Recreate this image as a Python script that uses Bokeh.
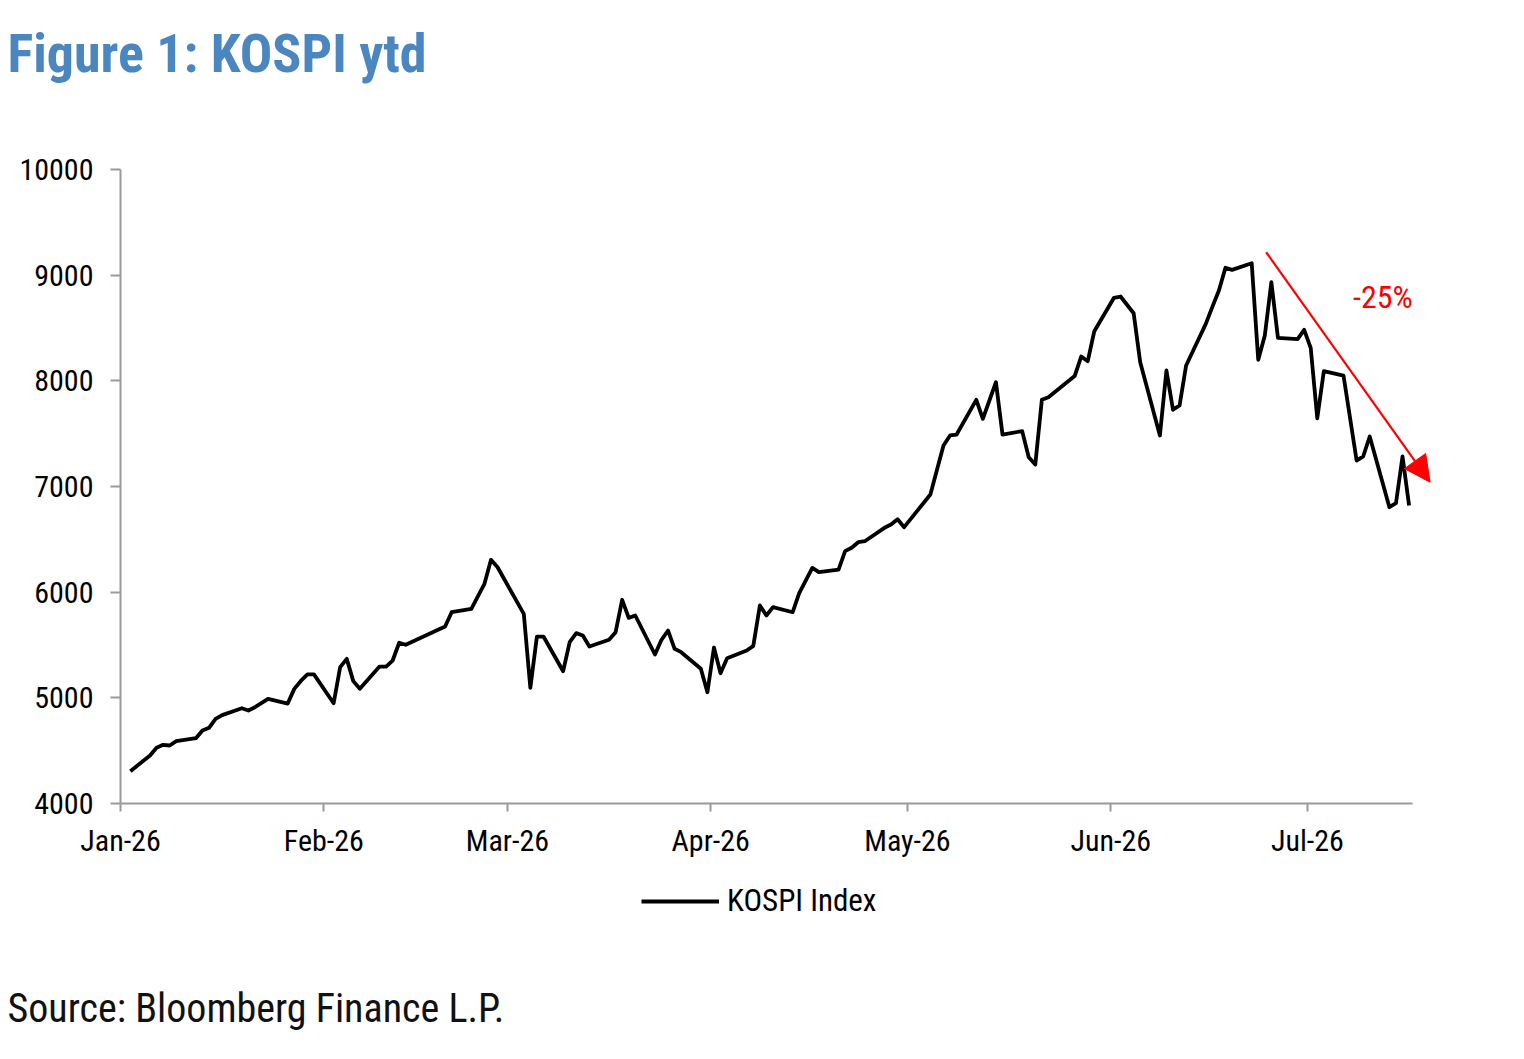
import pandas as pd
from datetime import datetime
from bokeh.plotting import figure
from bokeh.layouts import column
from bokeh.models import (ColumnDataSource, Range1d, FixedTicker, DatetimeTickFormatter,
                          Label, Arrow, NormalHead, Legend, LegendItem)
from bokeh.embed import file_html
from bokeh.resources import INLINE

# ---------------- data ----------------
dates = [
    "2026-01-02", "2026-01-05", "2026-01-06", "2026-01-07", "2026-01-08", "2026-01-09",
    "2026-01-12", "2026-01-13", "2026-01-14", "2026-01-15", "2026-01-16",
    "2026-01-19", "2026-01-20", "2026-01-21", "2026-01-23",
    "2026-01-26", "2026-01-27", "2026-01-28", "2026-01-29", "2026-01-30",
    "2026-02-02", "2026-02-03", "2026-02-04", "2026-02-05", "2026-02-06",
    "2026-02-09", "2026-02-10", "2026-02-11", "2026-02-12", "2026-02-13",
    "2026-02-19", "2026-02-20", "2026-02-23", "2026-02-25", "2026-02-26", "2026-02-27",
    "2026-03-03", "2026-03-04", "2026-03-05", "2026-03-06",
    "2026-03-09", "2026-03-10", "2026-03-11", "2026-03-12", "2026-03-13",
    "2026-03-16", "2026-03-17", "2026-03-18", "2026-03-19", "2026-03-20",
    "2026-03-23", "2026-03-24", "2026-03-25", "2026-03-26", "2026-03-27",
    "2026-03-30", "2026-03-31", "2026-04-01", "2026-04-02", "2026-04-03",
    "2026-04-06", "2026-04-07", "2026-04-08", "2026-04-09", "2026-04-10",
    "2026-04-13", "2026-04-14", "2026-04-16", "2026-04-17",
    "2026-04-20", "2026-04-21", "2026-04-22", "2026-04-23", "2026-04-24",
    "2026-04-27", "2026-04-28", "2026-04-29", "2026-04-30",
    "2026-05-04", "2026-05-06", "2026-05-07", "2026-05-08",
    "2026-05-11", "2026-05-12", "2026-05-13", "2026-05-14", "2026-05-15",
    "2026-05-18", "2026-05-19", "2026-05-20", "2026-05-21", "2026-05-22",
    "2026-05-26", "2026-05-27", "2026-05-28", "2026-05-29",
    "2026-06-01", "2026-06-02", "2026-06-04", "2026-06-05",
    "2026-06-08", "2026-06-09", "2026-06-10", "2026-06-11", "2026-06-12",
    "2026-06-15", "2026-06-16", "2026-06-17", "2026-06-18", "2026-06-19",
    "2026-06-22", "2026-06-23", "2026-06-24", "2026-06-25", "2026-06-26",
    "2026-06-29", "2026-06-30", "2026-07-01", "2026-07-02", "2026-07-03",
    "2026-07-06", "2026-07-08", "2026-07-09", "2026-07-10",
    "2026-07-13", "2026-07-14", "2026-07-15", "2026-07-16",
]
kospi = [
    4306, 4454, 4527, 4555, 4549, 4590,
    4618, 4691, 4716, 4801, 4836,
    4902, 4880, 4911, 4991,
    4946, 5085, 5160, 5222, 5222,
    4949, 5290, 5369, 5158, 5085,
    5296, 5296, 5353, 5521, 5502,
    5675, 5810, 5842, 6079, 6306, 6236,
    5795, 5095, 5580, 5580,
    5252, 5527, 5612, 5590, 5486,
    5549, 5621, 5928, 5757, 5779,
    5410, 5549, 5637, 5464, 5432,
    5275, 5053, 5476, 5233, 5374,
    5448, 5492, 5874, 5779, 5858,
    5810, 5990, 6230, 6189,
    6214, 6388, 6420, 6473, 6482,
    6609, 6640, 6690, 6615,
    6924, 7388, 7483, 7492,
    7820, 7640, 7814, 7987, 7492,
    7524, 7277, 7208, 7820, 7845,
    8045, 8230, 8186, 8470,
    8786, 8798, 8640, 8176,
    7483, 8098, 7726, 7767, 8145,
    8539, 8700, 8855, 9070, 9050,
    9113, 8199, 8430, 8934, 8407,
    8394, 8483, 8312, 7646, 8091,
    8050, 7246, 7284, 7473,
    6804, 6842, 7284, 6820,
]
month_ticks = ["2026-01-01", "2026-02-01", "2026-03-01", "2026-04-01",
               "2026-05-01", "2026-06-01", "2026-07-01"]
y_ticks = [4000, 5000, 6000, 7000, 8000, 9000, 10000]
series_name = "KOSPI Index"
title_text = "Figure 1: KOSPI ytd"
source_text = "Source: Bloomberg Finance L.P."
change_text = "-25%"

# ---------------- styling ----------------
NARROW = "'Liberation Sans Narrow', 'Arial Narrow', 'Roboto Condensed', 'Liberation Sans'"
AXIS_GREY = "#9a9a9a"
W = 1524


def blank_fig(height):
    f = figure(width=W, height=height, output_backend="svg", toolbar_location=None,
               x_range=Range1d(0, W), y_range=Range1d(0, height),
               x_axis_location=None, y_axis_location=None, frame_align=False,
               min_border_left=0, min_border_right=0, min_border_top=0, min_border_bottom=0)
    f.outline_line_color = None
    f.xgrid.visible = False
    f.ygrid.visible = False
    return f


# points sit in the middle of each day (Excel date-axis convention)
x = pd.to_datetime(dates) + pd.Timedelta(hours=12)
src = ColumnDataSource(dict(x=x, y=kospi))

# ---------------- title strip ----------------
top = blank_fig(130)
top.add_layout(Label(x=7, y=77, text=title_text, text_color="#4A86C0", text_font=NARROW,
                     text_font_style="bold", text_font_size="54px",
                     text_baseline="alphabetic"))

# ---------------- main chart ----------------
p = figure(width=W, height=750, output_backend="svg", toolbar_location=None,
           x_axis_type="datetime", frame_align=False,
           x_range=Range1d(datetime(2026, 1, 1), datetime(2026, 7, 21, 7)),
           y_range=Range1d(4000, 10000),
           min_border_left=120, min_border_right=84,
           min_border_top=39, min_border_bottom=77)
p.outline_line_color = None
p.xgrid.visible = False
p.ygrid.visible = False

r = p.line("x", "y", source=src, line_color="black", line_width=3.8, line_join="round")

tick_ms = [pd.Timestamp(t).value // 10**6 for t in month_ticks]
p.xaxis.ticker = FixedTicker(ticks=tick_ms)
p.xaxis.formatter = DatetimeTickFormatter(days="%b-%y", months="%b-%y", years="%b-%y",
                                          hours="%b-%y", minutes="%b-%y")
p.xaxis.bounds = (datetime(2026, 1, 1), datetime(2026, 7, 17))
p.yaxis.ticker = FixedTicker(ticks=y_ticks)
for ax in (p.xaxis[0], p.yaxis[0]):
    ax.axis_line_color = AXIS_GREY
    ax.axis_line_width = 2
    ax.major_tick_line_color = AXIS_GREY
    ax.major_tick_line_width = 2
    ax.major_tick_in = 0
    ax.minor_tick_line_color = None
    ax.major_label_text_font = NARROW
    ax.major_label_text_font_size = "30px"
    ax.major_label_text_color = "black"
p.xaxis.major_tick_out = 8
p.yaxis.major_tick_out = 10
p.xaxis.major_label_standoff = 11
p.yaxis.major_label_standoff = 17

p.add_layout(Arrow(end=NormalHead(size=26, fill_color="red", line_color="red"),
                   x_start=datetime(2026, 6, 24, 17), y_start=9217,
                   x_end=datetime(2026, 7, 19, 17), y_end=7040,
                   line_color="red", line_width=2.2))
p.add_layout(Label(x=datetime(2026, 7, 12, 12), y=8789, text=change_text,
                   text_color="red", text_font=NARROW, text_font_size="32px",
                   text_align="center", text_baseline="middle"))

# ---------------- legend + source strip ----------------
bot = blank_fig(179)
# legend sample: same series, drawn outside this strip's visible range
sample = bot.line("x", "y", source=src, line_color="black", line_width=3.8)
legend = Legend(items=[LegendItem(label=series_name, renderers=[sample])],
                location=(641, 140), orientation="horizontal",
                glyph_width=78, glyph_height=32, padding=0, margin=0, spacing=0,
                label_standoff=8, label_text_font=NARROW, label_text_font_size="31px",
                label_text_color="black", border_line_color=None,
                background_fill_alpha=0)
bot.add_layout(legend)
bot.add_layout(Label(x=7, y=51, text=source_text, text_color="#111111", text_font=NARROW,
                     text_font_size="40px", text_baseline="alphabetic"))

layout = column(top, p, bot, spacing=0)
open("out.html", "w").write(file_html(layout, INLINE))
